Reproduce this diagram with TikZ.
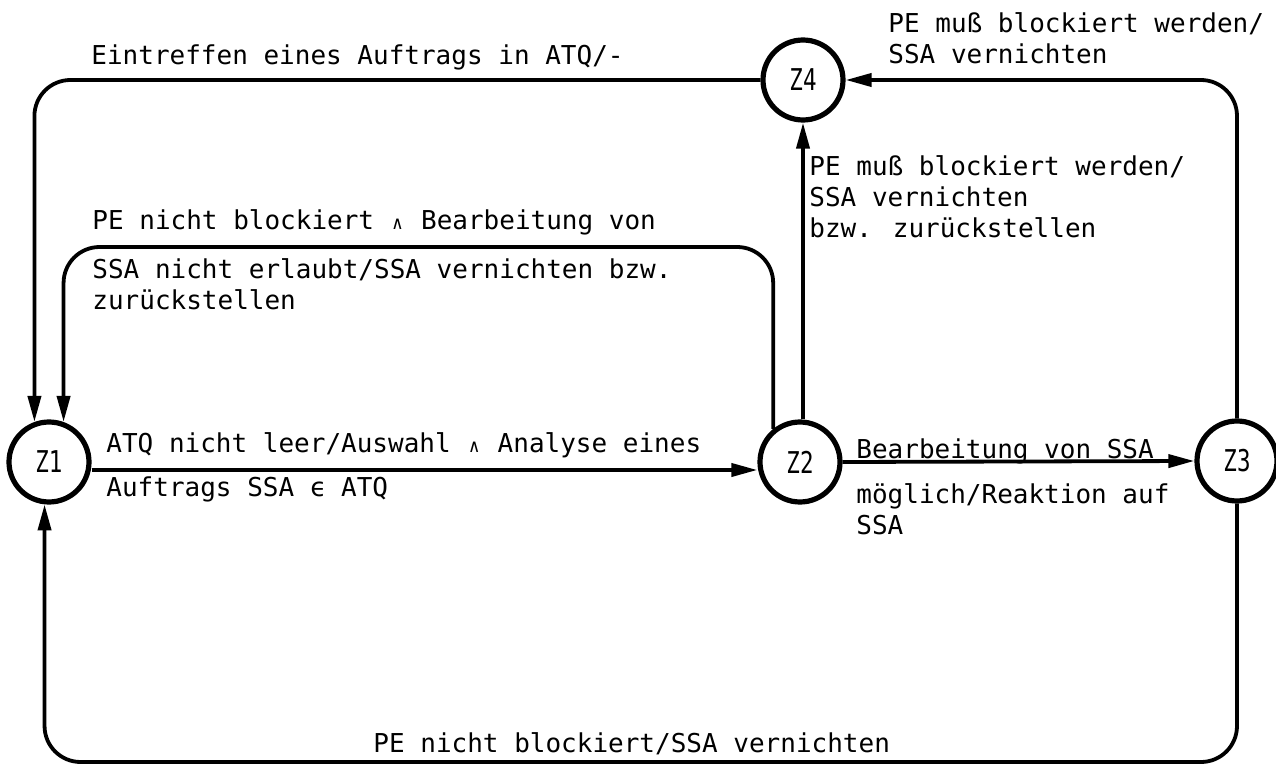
\documentclass[tikz,border=0pt]{standalone}
\usepackage{fontspec}
\usetikzlibrary{arrows.meta}
\newfontfamily\labelfamily{DejaVu Sans Mono}
\newfontfamily\statefamily{DejaVu Sans Mono}[FakeStretch=0.75]
% a small logical "and" that keeps the monospace grid
\newcommand\wedgecell{\makebox[0.602em][c]{\fontsize{9}{9}\selectfont ∧}}

\begin{document}
\begin{tikzpicture}[x=0.5pt, y=-0.5pt,
  state/.style={circle, draw, line width=2.6pt, minimum size=40pt, inner sep=0pt,
    font=\statefamily\fontsize{15}{15}\selectfont},
  trans/.style={line width=1.9pt, -{Triangle[length=13pt,width=6.5pt]},
    rounded corners=18pt},
  % labels are placed by the baseline of their last line
  lbl/.style={anchor=base west, inner sep=0pt, align=left,
    font=\labelfamily\fontsize{13}{15.5}\selectfont}]

\useasboundingbox (0,0) rectangle (1276,765);

% states
\node[state] (Z1) at (49,462)   {Z1};
\node[state] (Z2) at (800,462)  {Z2};
\node[state] (Z3) at (1237,461) {Z3};
\node[state] (Z4) at (803,80)   {Z4};

% levels of the loop lines
\coordinate (innerTop) at (0,247);
\coordinate (bottomY)  at (0,762);

% transitions
\draw[trans] ([yshift=-4pt]Z1.east) -- ([yshift=-4pt]Z2.west);
\draw[trans] (Z2.east) -- (Z3.west);
\draw[trans] (Z4.south |- Z2.north) -- (Z4.south);
\draw[trans] (Z2.129) -- (Z2.129 |- innerTop) -- (Z1.70 |- innerTop) -- (Z1.70);
\draw[trans] (Z4.west) -- (Z4.west -| Z1.110) -- (Z1.110);
\draw[trans] (Z3.north) -- (Z3.north |- Z4.east) -- (Z4.east);
\draw[trans] (Z3.south) -- (Z3.south |- bottomY) -- (Z1.264 |- bottomY) -- (Z1.264);

% transition labels
\node[lbl] (tEin)   at (91,65)   {Eintreffen eines Auftrags in ATQ/-};
\node[lbl] (tZ3Z4)  at (888,64)  {PE muß blockiert werden/\\SSA vernichten};
\node[lbl] (tZ2Z4)  at (809,237) {PE muß blockiert werden/\\SSA vernichten\\bzw. zurückstellen};
\node[lbl] (tInA)   at (92,230)  {PE nicht blockiert \wedgecell{} Bearbeitung von};
\node[lbl] (tInB)   at (92,309)  {SSA nicht erlaubt/SSA vernichten bzw.\\zurückstellen};
\node[lbl] (tZ1Z2a) at (106,452) {ATQ nicht leer/Auswahl \wedgecell{} Analyse eines};
\node[lbl] (tZ1Z2b) at (106,496) {Auftrags SSA ϵ ATQ};
\node[lbl] (tZ2Z3a) at (856,458) {Bearbeitung von SSA};
\node[lbl] (tZ2Z3b) at (856,534) {möglich/Reaktion auf\\SSA};
\node[lbl] (tBot)   at (373,752) {PE nicht blockiert/SSA vernichten};

\end{tikzpicture}
\end{document}
